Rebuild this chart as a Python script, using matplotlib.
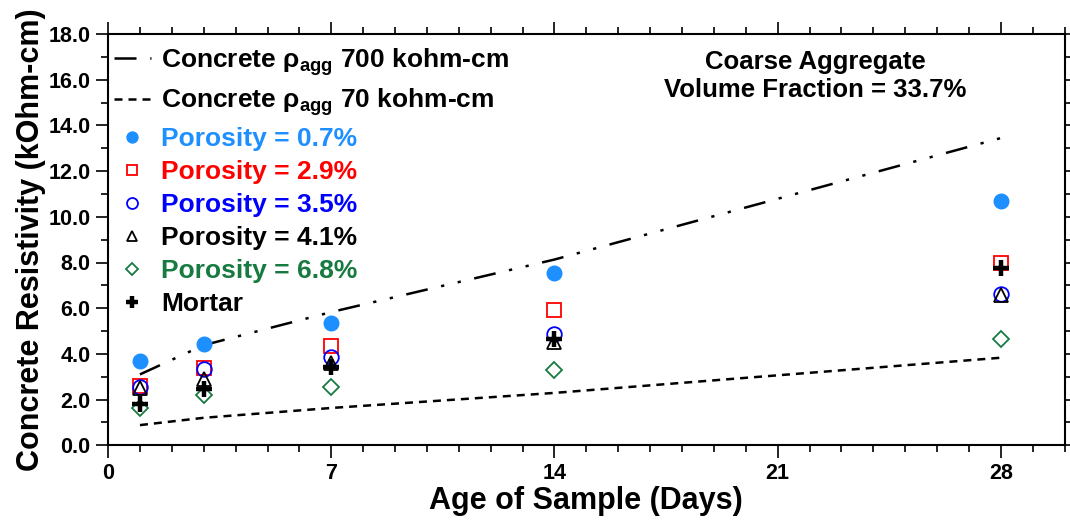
import numpy as np
import matplotlib
matplotlib.use("Agg")
import matplotlib.pyplot as plt
from matplotlib.ticker import MultipleLocator, FixedLocator, FormatStrFormatter

plt.rcParams['font.family'] = ['Liberation Sans', 'DejaVu Sans']
plt.rcParams['font.weight'] = 'bold'
plt.rcParams['axes.labelweight'] = 'bold'
plt.rcParams['mathtext.fontset'] = 'custom'
plt.rcParams['mathtext.rm'] = 'Liberation Sans:bold'
plt.rcParams['mathtext.bf'] = 'Liberation Sans:bold'
plt.rcParams['mathtext.it'] = 'Liberation Sans:bold'

# data
days = [1, 3, 7, 14, 28]
model_700 = [3.10, 4.38, 5.83, 8.13, 13.45]
model_70 = [0.88, 1.20, 1.63, 2.29, 3.83]

por_07 = [3.68, 4.42, 5.36, 7.52, 10.69]
por_29 = [2.58, 3.40, 4.34, 5.94, 7.99]
por_35 = [2.55, 3.33, 3.87, 4.89, 6.64]
por_41 = [2.50, 2.88, 3.58, 4.53, 6.57]
por_68 = [1.65, 2.19, 2.55, 3.29, 4.64]
mortar = [1.80, 2.48, 3.43, 4.67, 7.74]

labels = ["Concrete ρ$_{agg}$ 700 kohm-cm",
          "Concrete ρ$_{agg}$ 70 kohm-cm",
          "Porosity = 0.7%", "Porosity = 2.9%", "Porosity = 3.5%",
          "Porosity = 4.1%", "Porosity = 6.8%", "Mortar"]
colors = ["black", "black", "#1E8FFF", "#FF0000", "#0000FF",
          "black", "#177A40", "black"]

fig = plt.figure(figsize=(10.7, 5.25), dpi=100)
ax = fig.add_axes([0.101, 0.152, 0.894, 0.783])

ax.plot(days, model_700, color="black", lw=1.8,
        linestyle=(0, (8.8, 5.5, 1.3, 5.5, 1.3, 5.5)), label=labels[0])
ax.plot(days, model_70, color="black", lw=1.8,
        linestyle=(0, (3.2, 2.4)), label=labels[1])

ax.plot(days, por_07, 'o', ms=10.5, color=colors[2], mec=colors[2],
        ls='none', label=labels[2])
ax.plot(days, por_29, 's', ms=10, mfc='none', mec=colors[3], mew=1.3,
        ls='none', label=labels[3])
ax.plot(days, por_35, 'o', ms=10.5, mfc='none', mec=colors[4], mew=1.3,
        ls='none', label=labels[4])
ax.plot(days, por_41, '^', ms=10, mfc='none', mec=colors[5], mew=1.3,
        ls='none', label=labels[5])
ax.plot(days, por_68, 'D', ms=8.5, mfc='none', mec=colors[6], mew=1.3,
        ls='none', label=labels[6])
ax.plot(days, mortar, '+', ms=12, mec=colors[7], mew=3.2,
        ls='none', label=labels[7])

ax.set_xlim(0, 30)
ax.set_ylim(0, 18)
ax.xaxis.set_major_locator(FixedLocator([0, 7, 14, 21, 28]))
ax.xaxis.set_minor_locator(MultipleLocator(1))
ax.yaxis.set_major_locator(MultipleLocator(2))
ax.yaxis.set_minor_locator(MultipleLocator(1))
ax.yaxis.set_major_formatter(FormatStrFormatter('%.1f'))

for s in ax.spines.values():
    s.set_linewidth(1.5)
ax.tick_params(which='both', direction='out', top=True, right=True,
               width=1.2, labelsize=15.5)
ax.tick_params(which='major', length=9)
ax.tick_params(which='minor', length=5)

ax.set_xlabel("Age of Sample (Days)", fontsize=22, labelpad=2)
ax.set_ylabel("Concrete Resistivity (kOhm-cm)", fontsize=22, labelpad=2)

leg = ax.legend(loc='upper left', bbox_to_anchor=(-0.0065, 1.0),
                frameon=False, fontsize=19,
                handlelength=1.4, handletextpad=0.4, labelspacing=0.34,
                markerscale=0.75, borderaxespad=0.25, borderpad=0.2)
for t, c in zip(leg.get_texts(), colors):
    t.set_color(c)

ax.text(0.739, 0.962, "Coarse Aggregate\nVolume Fraction = 33.7%",
        transform=ax.transAxes, ha='center', va='top', fontsize=18.5,
        linespacing=1.2)

fig.savefig("out.png", dpi=100)
